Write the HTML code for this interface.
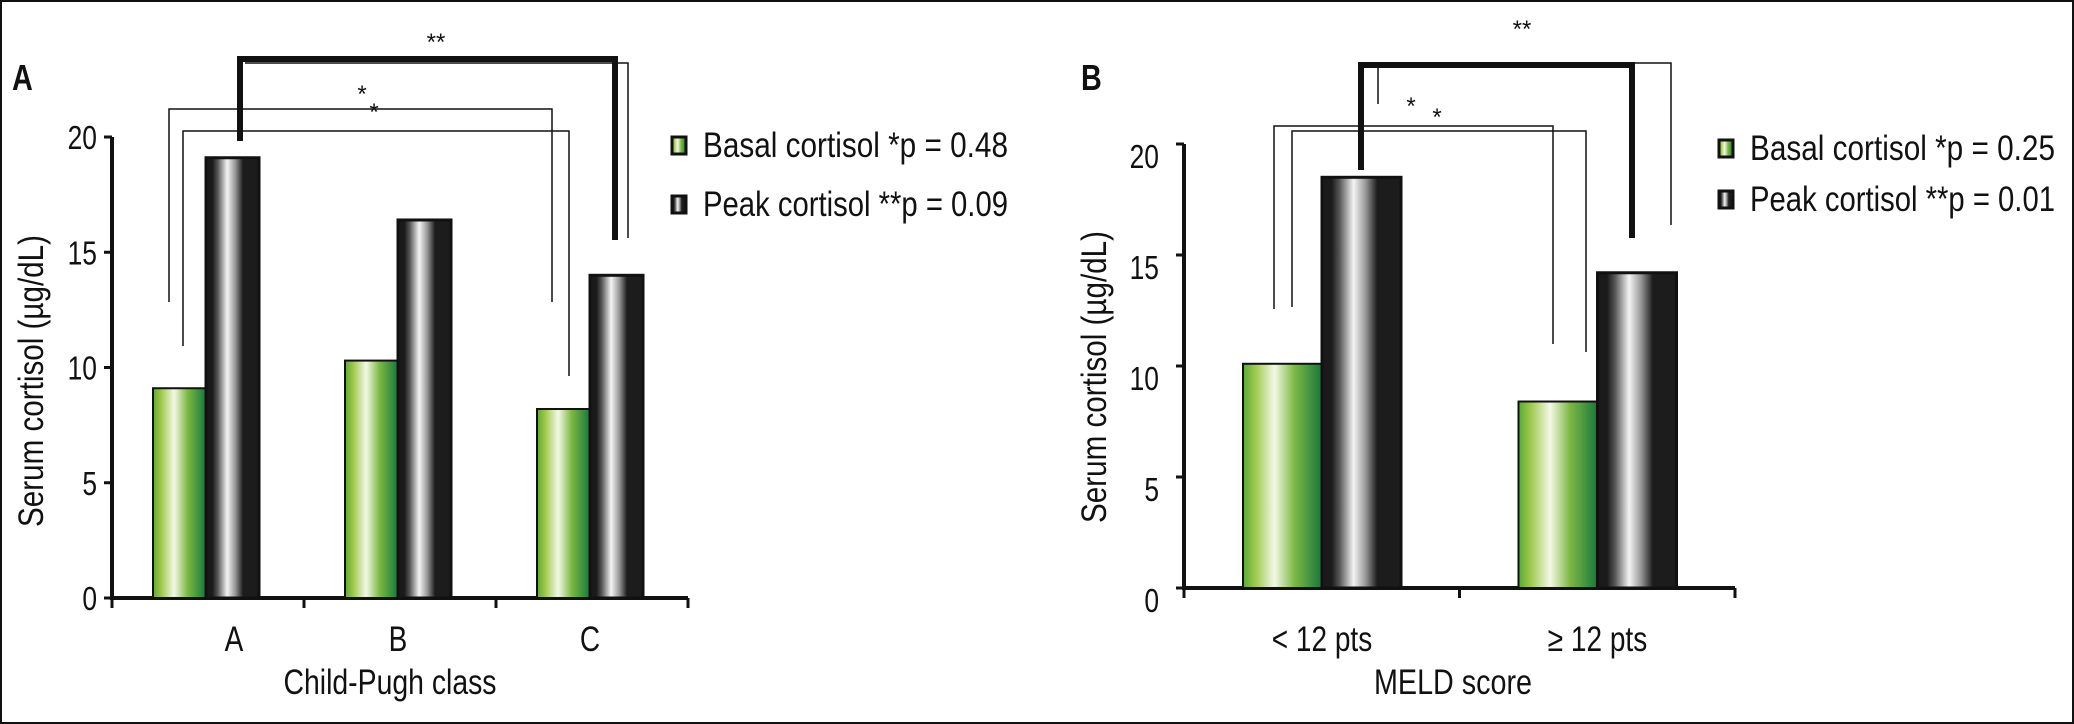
<!DOCTYPE html>
<html><head><meta charset="utf-8"><style>
html,body{margin:0;padding:0;background:#fff}
svg{display:block}
text{font-family:"Liberation Sans Narrow","Liberation Sans",sans-serif;fill:#111}
</style></head><body>
<svg id="chart" width="2074" height="724" viewBox="0 0 2074 724" xmlns="http://www.w3.org/2000/svg">
<defs>
<linearGradient id="gGreen" x1="0" x2="1" y1="0" y2="0">
<stop offset="0" stop-color="#5aa83a"/><stop offset="0.15" stop-color="#9cc84a"/><stop offset="0.4" stop-color="#f4f8e6"/><stop offset="0.65" stop-color="#7db845"/><stop offset="1" stop-color="#18773c"/>
</linearGradient>
<linearGradient id="gGray" x1="0" x2="1" y1="0" y2="0">
<stop offset="0" stop-color="#1a1a1a"/><stop offset="0.12" stop-color="#1a1a1a"/><stop offset="0.22" stop-color="#555"/><stop offset="0.4" stop-color="#f4f4f4"/><stop offset="0.55" stop-color="#999"/><stop offset="0.7" stop-color="#1c1c1c"/><stop offset="1" stop-color="#1c1c1c"/>
</linearGradient>
</defs>
<rect x="1" y="1" width="2072" height="722" fill="none" stroke="#111" stroke-width="2"/>
</svg>
<script>
// Panel A data
const catsA = ["A", "B", "C"];
const basalA = [9.1, 10.3, 8.2];
const peakA = [19.1, 16.4, 14.0];
// Panel B data
const catsB = ["< 12 pts", "\u2265 12 pts"];
const basalB = [10.1, 8.4];
const peakB = [18.5, 14.2];
const yTicks = [0, 5, 10, 15, 20];
const legendBasalA = "Basal cortisol *p = 0.48";
const legendPeakA = "Peak cortisol **p = 0.09";
const legendBasalB = "Basal cortisol *p = 0.25";
const legendPeakB = "Peak cortisol **p = 0.01";

const svg = document.getElementById('chart');
const NS = "http://www.w3.org/2000/svg";
function mk(tag, attrs, parent){
  const e = document.createElementNS(NS, tag);
  for (const k in attrs) e.setAttribute(k, attrs[k]);
  (parent||svg).appendChild(e);
  return e;
}
function txt(s, x, y, size, anchor, parent){
  const t = mk('text', {x:x, y:y, 'font-size':size, 'text-anchor':anchor||'middle'}, parent);
  t.textContent = s;
  return t;
}
function condense(t, len){
  const w = len || t.getComputedTextLength() * 0.8;
  t.setAttribute('textLength', w);
  t.setAttribute('lengthAdjust', 'spacingAndGlyphs');
}
function path(d, w, parent){
  return mk('path', {d:d, fill:'none', stroke:'#111', 'stroke-width':w}, parent);
}

function panel(cfg){
  const g = mk('g', {});
  
  
  const y = v => cfg.y0 - v * (cfg.y0 - cfg.y20) / 20;
  const x = i => cfg.x0 + i * cfg.catW;
  const ax = path(`M${cfg.x0},${cfg.y20} V${cfg.y0} H${x(cfg.cats.length)}`, 4, g);
  
  
  yTicks.forEach(v => {
    path(`M${cfg.x0-8},${y(v)} H${cfg.x0}`, 3, g);
    const t = txt(String(v), cfg.tickRight, y(v) + cfg.tickDy, 33, 'end', g);
    condense(t);
    
    
  });
  for (let i = 0; i <= cfg.cats.length; i++) path(`M${x(i)},${cfg.y0} V${cfg.y0+10}`, 3, g);
  cfg.cats.forEach((c, i) => {
    const bx = x(i) + cfg.off;
    const b1 = mk('rect', {x:bx, y:y(cfg.basal[i]), width:cfg.bw, height:cfg.y0 - y(cfg.basal[i]), fill:'url(#gGreen)', stroke:'#111', 'stroke-width':2}, g);
    
    
    const b2 = mk('rect', {x:bx + cfg.bw, y:y(cfg.peak[i]), width:cfg.bw, height:cfg.y0 - y(cfg.peak[i]), fill:'url(#gGray)', stroke:'#111', 'stroke-width':3}, g);
    
    
    const t = txt(c, bx + cfg.bw + (cfg.labShift ? cfg.labShift[i] : 0), 651, 35, 'middle', g);
    condense(t);
    
    
  });
  const xt = txt(cfg.xTitle, cfg.xTitleX, 694, 35, 'middle', g);
  condense(xt, cfg.xTitleLen);
  
  
  const yt = txt("Serum cortisol (\u00b5g/dL)", 0, 0, 35, 'middle', g);
  yt.setAttribute('transform', `translate(${cfg.yTitleX},${cfg.yTitleY}) rotate(-90)`);
  condense(yt, 292);
  
  
  const pl = mk('text', {x:cfg.labelX, y:90, 'font-size':36, 'font-weight':'bold', 'text-anchor':'start'}, g);
  pl.textContent = cfg.label;
  condense(pl);
  
  
  [[cfg.legB, 'url(#gGreen)', cfg.legY1, 'legend-entry-basal'], [cfg.legP, 'url(#gGray)', cfg.legY2, 'legend-entry-peak']].forEach(L => {
    const lg = mk('g', {}, g);
    
    
    mk('rect', {x:cfg.legX, y:L[2]-8, width:14, height:17, fill:L[1], stroke:'#111', 'stroke-width':3}, lg);
    const t = txt(L[0], cfg.legX + 31, L[2] + 12, 35, 'start', lg);
    condense(t, 305);
  });
  const br = mk('g', {}, g);
  
  
  cfg.brackets.forEach(b => path(b[0], b[1], br));
  cfg.stars.forEach(s => txt(s[0], s[1], s[2], 24, 'middle', br));
}

panel({name:'panel-a', label:'A', labelX:12, cats:catsA, basal:basalA, peak:peakA, labShift:[28,0,0],
  x0:112, catW:192, y0:598, y20:137, off:41, bw:53, tickRight:97, tickDy:12,
  xTitle:'Child-Pugh class', xTitleX:390, xTitleLen:213, yTitleX:43, yTitleY:381,
  legX:672, legY1:145, legY2:204, legB:legendBasalA, legP:legendPeakA,
  brackets:[
    ['M240,141 V59 H615 V240', 6],
    ['M245,63 H628 V238', 1.5],
    ['M169,302 V109 H552 V302', 1.5],
    ['M183,346 V131 H569 V376', 1.5]
  ],
  stars:[['**',436,50],['*',362,102],['*',374,120]]
});
panel({name:'panel-b', label:'B', labelX:1081, cats:catsB, basal:basalB, peak:peakB,
  x0:1184, catW:275.5, y0:588, y20:144, off:59, bw:79, tickRight:1159, tickDy:24,
  xTitle:'MELD score', xTitleX:1453, xTitleLen:158, yTitleX:1106, yTitleY:377,
  legX:1719, legY1:148, legY2:199, legB:legendBasalB, legP:legendPeakB,
  brackets:[
    ['M1361,170 V65 H1632 V238', 6],
    ['M1378,104 V63 H1671 V225', 1.5],
    ['M1274,309 V126 H1553 V344', 1.5],
    ['M1292,307 V131 H1586 V352', 1.5]
  ],
  stars:[['**',1522,37],['*',1411,114],['*',1437,125]]
});
</script>
</body></html>
